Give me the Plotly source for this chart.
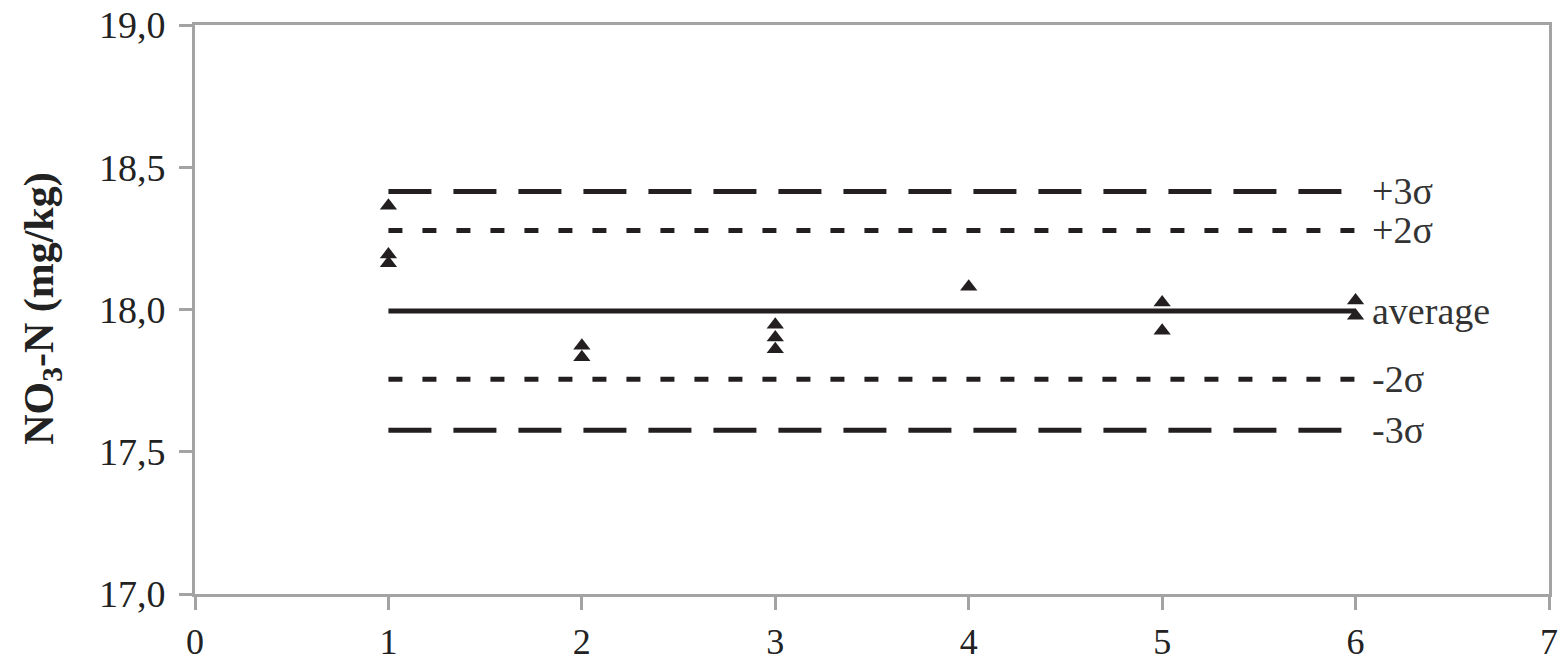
import plotly.graph_objects as go

# Control-chart limits for NO3-N (mg/kg)
limit_names = ["+3σ", "+2σ", "average", "-2σ", "-3σ"]
limit_values = [18.415, 18.278, 17.995, 17.755, 17.576]
limit_span = [1, 6]

# Measured results per run (repeats at the same run share an x value)
run_x = [1, 1, 1, 2, 2, 3, 3, 3, 4, 5, 5, 6, 6]
run_y = [18.365, 18.193, 18.163, 17.873, 17.832, 17.946, 17.902, 17.860,
         18.080, 18.025, 17.925, 18.032, 17.978]

y_ticks = [17.0, 17.5, 18.0, 18.5, 19.0]
y_tick_text = ["17,0", "17,5", "18,0", "18,5", "19,0"]
x_ticks = [0, 1, 2, 3, 4, 5, 6, 7]

INK = "#231f20"
AXIS = "#a3a3a3"
SERIF = "Liberation Serif"

line_styles = {
    "+3σ": dict(width=5, dash="43px,22px"),
    "+2σ": dict(width=5, dash="14px,20px"),
    "average": dict(width=5, dash="solid"),
    "-2σ": dict(width=5, dash="14px,20px"),
    "-3σ": dict(width=5, dash="43px,22px"),
}

fig = go.Figure()

for name, val in zip(limit_names, limit_values):
    fig.add_trace(go.Scatter(
        x=limit_span, y=[val, val], mode="lines",
        line=dict(color=INK, **line_styles[name]),
        showlegend=False, hoverinfo="skip",
    ))
    fig.add_annotation(
        x=limit_span[1], y=val, xref="x", yref="y",
        text=name, showarrow=False, xanchor="left", yanchor="middle",
        xshift=14, font=dict(family=SERIF, size=38, color="#333333"),
    )

fig.add_trace(go.Scatter(
    x=run_x, y=run_y, mode="markers",
    marker=dict(symbol="triangle-up", size=15, color=INK, line=dict(width=0)),
    showlegend=False,
))

axis_common = dict(
    showgrid=False, zeroline=False, showline=True, linecolor=AXIS,
    linewidth=3, mirror=True, ticks="outside", ticklen=13, tickwidth=3,
    tickcolor=AXIS, tickfont=dict(family=SERIF, size=38, color="#222222"),
    automargin=False,
)

fig.update_xaxes(range=[0, 7], tickvals=x_ticks, ticklabelstandoff=1,
                 tickfont=dict(family=SERIF, size=36, color="#222222"),
                 **{k: v for k, v in axis_common.items() if k != "tickfont"})
fig.update_yaxes(range=[17, 19], tickvals=y_ticks, ticktext=y_tick_text,
                 ticklabelstandoff=6, **axis_common)

fig.add_annotation(
    xref="paper", yref="paper", x=-0.113, y=0.503,
    text="<b>NO<sub>3</sub>-N (mg/kg)</b>", textangle=-90, showarrow=False,
    xanchor="center", yanchor="middle",
    font=dict(family=SERIF, size=42, color="#222222"),
)

fig.update_layout(
    width=1568, height=668,
    margin=dict(l=195, r=19, t=25, b=74),
    plot_bgcolor="white", paper_bgcolor="white",
)

fig.write_html("out.html")
